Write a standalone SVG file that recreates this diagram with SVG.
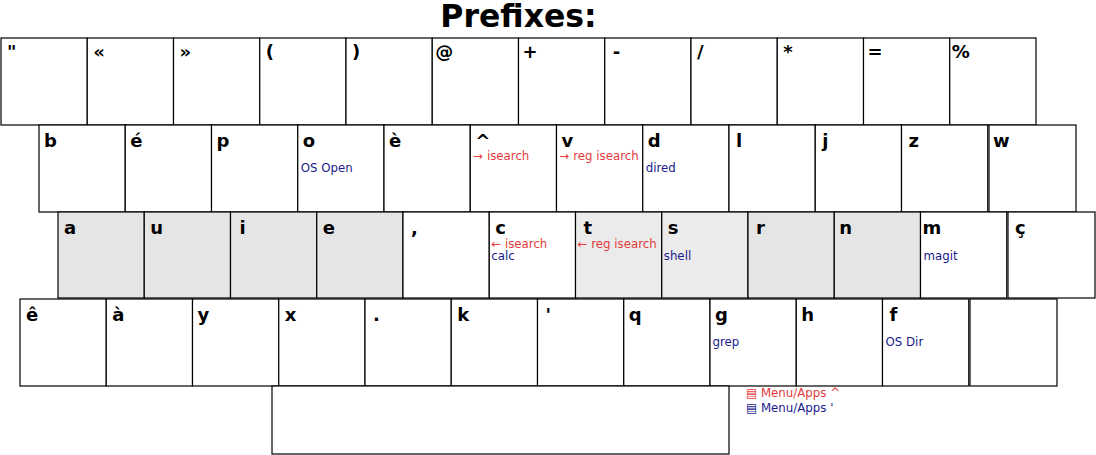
<svg xmlns="http://www.w3.org/2000/svg" width="1096" height="455" viewBox="0 0 1096 455">
<style>
.k{fill:#fff;stroke:#000;stroke-width:1.2}
.g{fill:#e5e5e5}
.l{fill:#ebebeb}
.t{font-family:"DejaVu Sans",sans-serif;font-weight:bold;font-size:18px;fill:#000}
.r{font-family:"DejaVu Sans",sans-serif;font-size:11.8px;fill:#e33b3b}
.b{font-family:"DejaVu Sans",sans-serif;font-size:11.8px;fill:#1a1a8c}
.h{font-family:"DejaVu Sans",sans-serif;font-weight:bold;font-size:31.5px;fill:#000}
</style>
<rect width="1096" height="455" fill="#fff"/>
<text class="h" x="518.5" y="27" text-anchor="middle">Prefixes:</text>
<g id="row1">
<g id="k-quote"><rect class="k" x="1" y="38" width="86.25" height="87"/><text class="t" x="7" y="58">"</text></g>
<g id="k-laquo"><rect class="k" x="87.25" y="38" width="86.25" height="87"/><text class="t" x="93.25" y="58">«</text></g>
<g id="k-raquo"><rect class="k" x="173.5" y="38" width="86.25" height="87"/><text class="t" x="179.5" y="58">»</text></g>
<g id="k-lparen"><rect class="k" x="259.75" y="38" width="86.25" height="87"/><text class="t" x="265.75" y="58">(</text></g>
<g id="k-rparen"><rect class="k" x="346" y="38" width="86.25" height="87"/><text class="t" x="352" y="58">)</text></g>
<g id="k-at"><rect class="k" x="432.25" y="38" width="86.25" height="87"/><text class="t" x="435.25" y="58">@</text></g>
<g id="k-plus"><rect class="k" x="518.5" y="38" width="86.25" height="87"/><text class="t" x="522.5" y="58">+</text></g>
<g id="k-minus"><rect class="k" x="604.75" y="38" width="86.25" height="87"/><text class="t" x="612.75" y="58">-</text></g>
<g id="k-slash"><rect class="k" x="691" y="38" width="86.25" height="87"/><text class="t" x="697" y="58">/</text></g>
<g id="k-star"><rect class="k" x="777.25" y="38" width="86.25" height="87"/><text class="t" x="783.25" y="58">*</text></g>
<g id="k-equal"><rect class="k" x="863.5" y="38" width="86.25" height="87"/><text class="t" x="867.5" y="58">=</text></g>
<g id="k-percent"><rect class="k" x="949.75" y="38" width="86.25" height="87"/><text class="t" x="951.75" y="58">%</text></g>
</g>
<g id="row2">
<g id="k-b"><rect class="k" x="39" y="125" width="86.25" height="87"/><text class="t" x="44" y="147">b</text></g>
<g id="k-eacute"><rect class="k" x="125.25" y="125" width="86.25" height="87"/><text class="t" x="130.25" y="147">é</text></g>
<g id="k-p"><rect class="k" x="211.5" y="125" width="86.25" height="87"/><text class="t" x="216.5" y="147">p</text></g>
<g id="k-o"><rect class="k" x="297.75" y="125" width="86.25" height="87"/><text class="t" x="302.75" y="147">o</text><text class="b" x="300.75" y="172">OS Open</text></g>
<g id="k-egrave"><rect class="k" x="384" y="125" width="86.25" height="87"/><text class="t" x="389" y="147">è</text></g>
<g id="k-caret"><rect class="k" x="470.25" y="125" width="86.25" height="87"/><text class="t" x="475.25" y="147">^</text><text class="r" x="473.25" y="160">→ isearch</text></g>
<g id="k-v"><rect class="k" x="556.5" y="125" width="86.25" height="87"/><text class="t" x="561.5" y="147">v</text><text class="r" x="559.5" y="160">→ reg isearch</text></g>
<g id="k-d"><rect class="k" x="642.75" y="125" width="86.25" height="87"/><text class="t" x="647.75" y="147">d</text><text class="b" x="645.75" y="172">dired</text></g>
<g id="k-l"><rect class="k" x="729" y="125" width="86.25" height="87"/><text class="t" x="736" y="147">l</text></g>
<g id="k-j"><rect class="k" x="815.25" y="125" width="86.25" height="87"/><text class="t" x="822.25" y="147">j</text></g>
<g id="k-z"><rect class="k" x="901.5" y="125" width="86.25" height="87"/><text class="t" x="908.5" y="147">z</text></g>
<g id="k-w"><rect class="k" x="989" y="125" width="87" height="87"/><text class="t" x="993" y="147">w</text></g>
</g>
<g id="row3">
<g id="k-a"><rect class="k g" x="58" y="212" width="86.25" height="86"/><text class="t" x="64" y="234">a</text></g>
<g id="k-u"><rect class="k g" x="144.25" y="212" width="86.25" height="86"/><text class="t" x="150.25" y="234">u</text></g>
<g id="k-i"><rect class="k g" x="230.5" y="212" width="86.25" height="86"/><text class="t" x="239.5" y="234">i</text></g>
<g id="k-e"><rect class="k g" x="316.75" y="212" width="86.25" height="86"/><text class="t" x="322.75" y="234">e</text></g>
<g id="k-comma"><rect class="k" x="403" y="212" width="86.25" height="86"/><text class="t" x="411" y="234">,</text></g>
<g id="k-c"><rect class="k" x="489.25" y="212" width="86.25" height="86"/><text class="t" x="495.25" y="234">c</text><text class="r" x="491.25" y="248">← isearch</text><text class="b" x="491.25" y="260">calc</text></g>
<g id="k-t"><rect class="k l" x="575.5" y="212" width="86.25" height="86"/><text class="t" x="583.5" y="234">t</text><text class="r" x="577.5" y="248">← reg isearch</text></g>
<g id="k-s"><rect class="k l" x="661.75" y="212" width="86.25" height="86"/><text class="t" x="667.75" y="234">s</text><text class="b" x="663.75" y="260">shell</text></g>
<g id="k-r"><rect class="k g" x="748" y="212" width="86.25" height="86"/><text class="t" x="756" y="234">r</text></g>
<g id="k-n"><rect class="k g" x="834.25" y="212" width="86.25" height="86"/><text class="t" x="839.25" y="234">n</text></g>
<g id="k-m"><rect class="k" x="920.5" y="212" width="86.25" height="86"/><text class="t" x="922.5" y="234">m</text><text class="b" x="923.5" y="260">magit</text></g>
<g id="k-ccedil"><rect class="k" x="1008" y="212" width="87" height="86"/><text class="t" x="1015" y="234">ç</text></g>
</g>
<g id="row4">
<g id="k-ecirc"><rect class="k" x="20" y="299" width="86.25" height="87"/><text class="t" x="26" y="321">ê</text></g>
<g id="k-agrave"><rect class="k" x="106.25" y="299" width="86.25" height="87"/><text class="t" x="112.25" y="321">à</text></g>
<g id="k-y"><rect class="k" x="192.5" y="299" width="86.25" height="87"/><text class="t" x="197.5" y="321">y</text></g>
<g id="k-x"><rect class="k" x="278.75" y="299" width="86.25" height="87"/><text class="t" x="284.75" y="321">x</text></g>
<g id="k-period"><rect class="k" x="365" y="299" width="86.25" height="87"/><text class="t" x="373" y="321">.</text></g>
<g id="k-k"><rect class="k" x="451.25" y="299" width="86.25" height="87"/><text class="t" x="457.25" y="321">k</text></g>
<g id="k-apos"><rect class="k" x="537.5" y="299" width="86.25" height="87"/><text class="t" x="545.5" y="321">'</text></g>
<g id="k-q"><rect class="k" x="623.75" y="299" width="86.25" height="87"/><text class="t" x="628.75" y="321">q</text></g>
<g id="k-g"><rect class="k" x="710" y="299" width="86.25" height="87"/><text class="t" x="715" y="321">g</text><text class="b" x="712.5" y="346">grep</text></g>
<g id="k-h"><rect class="k" x="796.25" y="299" width="86.25" height="87"/><text class="t" x="801.25" y="321">h</text></g>
<g id="k-f"><rect class="k" x="882.5" y="299" width="86.25" height="87"/><text class="t" x="889.5" y="321">f</text><text class="b" x="885.5" y="346">OS Dir</text></g>
<g id="k-blank"><rect class="k" x="970" y="299" width="87" height="87"/></g>
</g>
<g id="k-space"><rect class="k" x="272" y="386" width="457" height="68"/></g>
<g id="legend">
<text class="r" x="746" y="397">▤ Menu/Apps ^</text>
<text class="b" x="746" y="412">▤ Menu/Apps '</text>
</g>
</svg>
